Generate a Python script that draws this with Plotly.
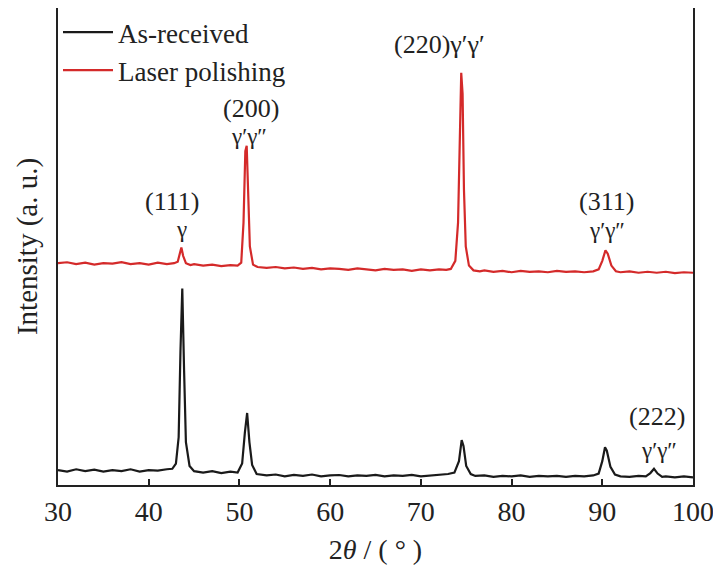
import plotly.graph_objects as go

# ---- data (2θ in degrees, intensity in arbitrary units) ----
x_as_received = [30, 31, 32, 33, 34, 35, 36, 37, 38, 39, 40, 41, 42, 42.6, 43.0, 43.3, 43.5, 43.7, 43.9, 44.1,
                 44.5, 45, 46, 47, 48, 49, 49.8, 50.3, 50.6, 50.85, 51.1, 51.4, 51.9, 53, 54, 55, 56, 57, 58, 59,
                 60, 61, 62, 63, 64, 65, 66, 67, 68, 69, 70, 71, 72, 73, 73.7, 74.2, 74.5, 74.7, 75.0, 75.5,
                 76, 77, 78, 79, 80, 81, 82, 83, 84, 85, 86, 87, 88, 89, 89.6, 90.0, 90.3, 90.5, 90.9, 91.4,
                 92, 93, 94, 94.8, 95.3, 95.7, 96.1, 96.6, 97, 98, 99, 100]
y_as_received = [3.1, 2.8, 3.3, 2.9, 3.2, 2.8, 3.1, 2.9, 3.3, 2.8, 3.1, 3.0, 3.3, 3.4, 4.5, 10, 28, 41.2, 24, 9,
                 4.0, 2.9, 2.6, 2.9, 2.5, 2.8, 2.6, 4.5, 11, 15.1, 9, 4.2, 2.3, 2.0, 2.2, 1.8, 2.1, 1.9, 2.2, 1.8,
                 2.0, 2.1, 1.8, 2.0, 1.9, 2.1, 1.8, 2.0, 1.9, 2.1, 1.8, 2.0, 2.1, 2.3, 2.6, 5, 9.4, 8.2, 4, 2.3,
                 1.9, 2.0, 1.7, 1.9, 1.8, 2.0, 1.7, 1.9, 1.8, 1.9, 1.7, 1.9, 1.8, 2.0, 2.4, 5, 7.9, 7.2, 3.8, 2.2,
                 1.8, 1.7, 1.9, 1.8, 2.5, 3.4, 2.4, 1.7, 1.8, 1.6, 1.8, 1.6]

x_laser = [30, 31, 32, 33, 34, 35, 36, 37, 38, 39, 40, 41, 42, 42.8, 43.2, 43.45, 43.6, 43.8, 44.1, 44.6,
           45, 46, 47, 48, 49, 49.8, 50.2, 50.45, 50.65, 50.8, 50.95, 51.15, 51.5, 52, 53, 54, 55, 56, 57, 58,
           59, 60, 61, 62, 63, 64, 65, 66, 67, 68, 69, 70, 71, 72, 72.8, 73.3, 73.8, 74.1, 74.3, 74.45,
           74.6, 74.75, 74.95, 75.3, 75.8, 76.5, 77, 78, 79, 80, 81, 82, 83, 84, 85, 86, 87, 88, 89, 89.6,
           90.0, 90.35, 90.6, 91.0, 91.5, 92, 93, 94, 95, 96, 97, 98, 99, 100]
y_laser = [46.5, 46.7, 46.3, 46.6, 46.2, 46.5, 46.4, 46.7, 46.3, 46.5, 46.2, 46.6, 46.3, 46.5, 46.8, 48.5, 49.8, 48.0, 46.5, 46.1,
           46.3, 46.0, 46.2, 45.9, 46.1, 46.0, 46.6, 55, 70, 71.1, 63, 50, 46.2, 45.7, 45.5, 45.7, 45.4, 45.6, 45.3, 45.5,
           45.2, 45.4, 45.3, 45.1, 45.4, 45.2, 45.0, 45.3, 45.1, 45.2, 44.9, 45.2, 45.0, 45.2, 45.1, 45.3, 47, 55, 75, 86.4,
           82, 62, 50, 46, 45.0, 44.8, 45.0, 44.7, 44.9, 44.6, 44.9, 44.7, 44.8, 44.6, 44.9, 44.7, 44.8, 44.6, 44.8, 45.2,
           47, 49.2, 48.5, 46, 44.8, 44.6, 44.8, 44.5, 44.7, 44.5, 44.7, 44.4, 44.6, 44.5]

x_ticks = [30, 40, 50, 60, 70, 80, 90, 100]

# peak labels: (text, x, y, font size)
peak_labels = [
    ("(111)", 42.6, 59.5, 26), ("γ", 43.6, 53.6, 23),
    ("(200)", 51.3, 79.0, 26), ("γ′γ″", 51.0, 73.0, 23),
    ("(220)γ′γ′", 72.1, 92.3, 26),
    ("(311)", 90.5, 59.5, 26), ("γ′γ″", 90.5, 53.4, 23),
    ("(222)", 96.0, 14.3, 26), ("γ′γ″", 96.2, 7.2, 23),
]

FONT = "Liberation Serif, Times New Roman, serif"

fig = go.Figure()
fig.add_trace(go.Scatter(x=x_as_received, y=y_as_received, mode="lines", name="As-received",
                         line=dict(color="#1a1a1a", width=2.2)))
fig.add_trace(go.Scatter(x=x_laser, y=y_laser, mode="lines", name="Laser polishing",
                         line=dict(color="#d42a2a", width=2.2)))

for txt, xx, yy, fs in peak_labels:
    fig.add_annotation(x=xx, y=yy, text=txt, showarrow=False,
                       font=dict(family=FONT, size=fs, color="#222"))

fig.update_layout(
    width=721, height=567,
    margin=dict(l=50, r=36, t=0, b=90, autoexpand=False),
    paper_bgcolor="white", plot_bgcolor="white",
    font=dict(family=FONT, size=28, color="#222"),
    showlegend=True,
    legend=dict(x=0.0, y=1.0, xanchor="left", yanchor="top", bgcolor="rgba(0,0,0,0)",
                font=dict(family=FONT, size=27, color="#222"), tracegroupgap=0,
                itemwidth=50),
    xaxis=dict(range=[30, 100], tickvals=x_ticks, ticks="inside", ticklen=6, tickwidth=1.5,
               tickcolor="#222", showline=True, linecolor="#222", linewidth=2, mirror=True,
               showgrid=False, zeroline=False, automargin=False,
               title=dict(text="2<i>θ</i> / ( ° )", standoff=14, font=dict(family=FONT, size=28)),
               tickfont=dict(family=FONT, size=28)),
    yaxis=dict(range=[0, 100], showticklabels=False, ticks="", showline=True, linecolor="#222",
               linewidth=2, mirror=True, showgrid=False, zeroline=False, automargin=False,
               title=dict(text="Intensity (a. u.)", standoff=10, font=dict(family=FONT, size=29))),
)

fig.write_html("out.html")
